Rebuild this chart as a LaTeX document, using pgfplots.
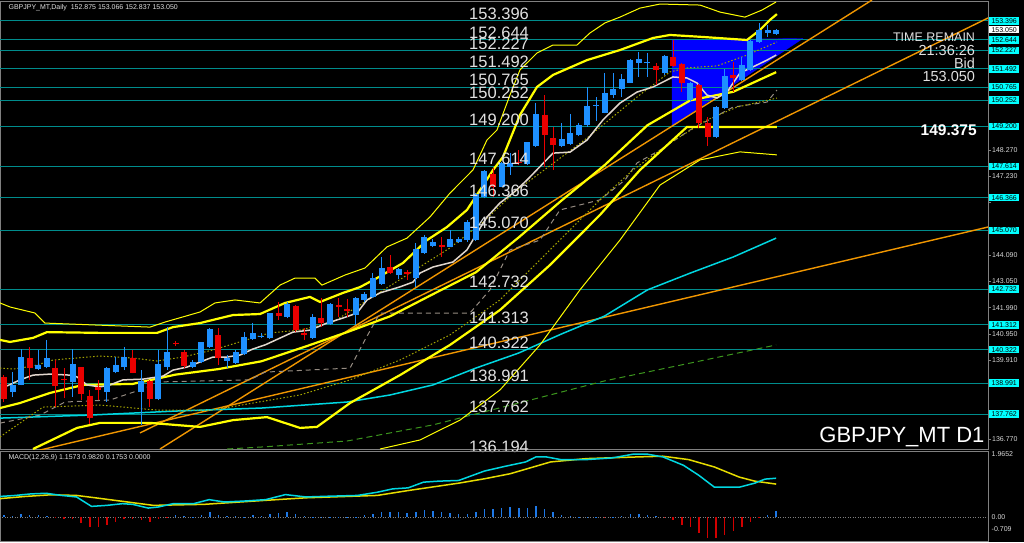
\documentclass[border=0pt]{standalone}
\usepackage{pgfplots}
\pgfplotsset{compat=1.18}
\usepackage{pgfplotstable}
\usepackage{fontspec}
\setmainfont{Liberation Sans}

\definecolor{upc}{RGB}{30,144,255}
\definecolor{dnc}{RGB}{235,0,0}
\definecolor{lvl}{RGB}{0,140,140}
\definecolor{bbY}{RGB}{255,255,0}
\definecolor{olv}{RGB}{165,165,0}
\definecolor{maW}{RGB}{225,215,205}
\definecolor{kij}{RGB}{150,140,130}
\definecolor{cyn}{RGB}{0,215,225}
\definecolor{grn}{RGB}{60,150,30}
\definecolor{org}{RGB}{240,150,0}
\definecolor{tri}{RGB}{0,0,255}
\definecolor{txt}{RGB}{225,225,225}
\definecolor{frm}{RGB}{128,128,128}
\definecolor{boxc}{RGB}{0,255,255}
\definecolor{hup}{RGB}{30,120,230}
\definecolor{hdn}{RGB}{210,0,0}
\definecolor{sig}{RGB}{230,220,0}

\pgfplotstableread{
i O H L C
1 138.65 139.45 138.43 138.92
2 138.92 140.34 138.90 140.02
4 139.55 140.31 139.51 139.70
5 139.65 140.71 139.58 139.98
8 139.04 140.34 138.45 139.74
12 138.63 139.65 138.25 139.58
13 139.45 140.04 139.38 139.71
14 139.65 140.44 139.51 140.02
16 138.63 139.51 137.33 139.08
18 138.35 140.31 138.32 139.74
19 139.65 141.24 139.51 140.24
22 139.65 139.91 139.58 139.82
23 139.82 140.64 139.78 140.61
24 140.41 141.17 140.38 141.13
26 139.89 140.11 139.58 139.99
27 139.80 140.31 139.75 140.24
28 140.14 141.04 140.11 140.84
29 140.73 141.37 140.71 140.97
30 140.84 140.97 140.77 140.88
31 140.77 141.03 140.74 141.79
33 141.64 142.23 141.57 142.14
36 140.80 141.73 140.75 141.64
38 141.34 142.17 141.30 142.14
41 141.70 142.43 141.30 142.37
42 142.30 142.63 142.23 142.54
43 142.43 143.36 142.37 143.16
44 142.94 144.02 142.89 143.56
46 143.28 143.56 143.12 143.52
48 143.16 144.55 142.83 144.34
49 144.15 144.88 144.13 144.79
50 144.45 144.71 144.39 144.62
52 144.42 145.08 144.39 144.71
53 144.62 144.79 144.58 144.71
54 144.68 145.48 144.62 145.41
55 144.68 146.54 144.66 146.50
56 146.41 147.47 146.34 147.44
58 146.81 147.80 146.78 147.73
59 147.60 148.13 147.27 147.73
61 147.71 148.60 147.67 148.57
62 148.42 150.15 148.40 149.70
65 148.42 149.33 148.37 148.69
66 148.50 149.70 148.46 148.95
67 148.86 149.35 148.82 149.27
68 149.26 150.78 149.19 150.01
69 150.02 150.39 149.43 150.07
70 149.75 151.31 149.72 150.53
71 150.45 151.31 150.32 150.68
72 150.68 151.29 150.39 151.08
73 150.94 151.87 150.92 151.84
74 151.74 152.18 151.18 151.87
75 151.72 152.14 151.18 151.76
77 151.31 152.04 151.25 152.00
80 150.25 150.98 150.19 150.92
83 148.77 150.01 148.73 149.96
84 149.92 151.47 149.88 151.21
86 151.05 151.98 151.02 151.65
87 151.45 152.64 151.42 152.61
88 152.57 153.30 152.53 153.04
89 152.93 153.24 152.75 153.04
90 152.875 153.066 152.837 153.050
}\upcandles

\pgfplotstableread{
i O H L C
0 139.22 139.30 138.25 138.35
3 139.99 140.44 139.12 139.61
6 139.61 139.91 138.05 138.88
7 139.17 139.58 138.39 139.13
9 139.62 139.65 138.32 138.55
10 138.49 138.72 137.37 137.59
11 138.82 139.12 138.32 138.72
15 139.98 140.31 139.38 139.41
17 139.08 139.12 138.03 138.35
20 140.60 140.66 140.48 140.56
21 140.24 140.31 139.58 139.67
25 140.90 141.17 139.71 139.98
32 141.79 142.23 141.50 141.68
34 142.07 142.10 141.04 141.11
35 141.00 141.17 140.71 140.89
37 141.57 142.37 141.24 141.37
39 142.10 142.37 141.64 142.03
40 141.93 142.34 141.64 141.87
45 143.60 144.09 143.33 143.39
47 143.40 143.49 143.09 143.33
51 144.50 144.82 144.02 144.42
57 147.31 147.54 146.41 146.81
60 147.80 148.27 147.67 147.73
63 149.66 150.45 147.60 148.86
64 148.74 149.19 147.47 148.45
76 151.61 151.74 150.85 151.45
78 151.98 152.64 151.58 151.61
79 151.69 151.74 150.59 150.94
81 150.85 150.87 149.13 149.33
82 149.33 149.59 148.42 148.80
85 151.24 151.78 150.59 151.14
}\dncandles

\pgfplotstableread{
i h
0 0.06
1 0.04
2 0.10
3 0.07
4 0.05
5 0.04
20 0.05
21 0.04
22 0.01
23 0.07
24 0.15
25 0.07
26 0.03
27 0.02
28 0.01
29 0.05
30 0.04
31 0.10
32 0.13
33 0.15
34 0.10
35 0.03
36 0.01
37 0.01
38 0.01
39 0.01
40 0.01
41 0.01
42 0.05
43 0.10
44 0.15
45 0.15
46 0.15
47 0.12
48 0.15
49 0.20
50 0.18
51 0.14
52 0.12
53 0.08
54 0.10
55 0.15
56 0.25
57 0.25
58 0.28
59 0.30
60 0.27
61 0.27
62 0.32
63 0.25
64 0.15
65 0.07
66 0.02
67 0.01
68 0.01
69 0.01
71 0.01
72 0.03
73 0.10
74 0.10
75 0.07
76 0.02
89 0.05
90 0.1753
}\histpos

\pgfplotstableread{
i h
6 -0.02
7 -0.05
8 -0.05
9 -0.18
10 -0.30
11 -0.30
12 -0.22
13 -0.15
14 -0.05
15 -0.05
16 -0.08
17 -0.15
18 -0.05
19 -0.01
70 -0.01
77 -0.01
78 -0.08
79 -0.22
80 -0.30
81 -0.48
82 -0.62
83 -0.62
84 -0.52
85 -0.42
86 -0.30
87 -0.15
88 -0.02
}\histneg

\begin{document}
\begin{tikzpicture}[x=1pt,y=1pt]
\useasboundingbox (0,0) rectangle (1024,542);
\fill[black] (0,0) rectangle (1024,542);

% ---------------- main price panel ----------------
\begin{axis}[
  at={(0pt,93pt)}, anchor=south west, scale only axis,
  width=988pt, height=448pt,
  xmin=-0.466, xmax=114.69, ymin=136.371, ymax=154.191,
  axis line style={draw=frm, line width=0.8pt},
  xtick=\empty,
  ytick={136.77,137.81,138.87,139.91,140.95,141.99,143.05,144.09,145.13,146.19,147.23,148.27,149.33,150.37,151.41,152.47,153.51},
  yticklabels={136.770,,,139.910,140.950,141.990,143.050,144.090,,,147.230,148.270,,,,,},
  ytick pos=right, yticklabel pos=right, tick align=outside,
  major tick length=3pt, tick style={draw=frm, line width=0.6pt},
  yticklabel style={font=\fontsize{7}{8}\selectfont, text=black!15, inner sep=0.5pt, xshift=0.5pt},
  clip mode=individual,
]
% blue triangle object
\addplot[draw=tri, fill=tri] coordinates {(77.86,152.644) (93.1,152.70) (77.86,149.22) (77.86,152.644)};

% horizontal price levels
\pgfplotsinvokeforeach{153.396,152.644,152.227,151.492,150.765,150.252,149.200,147.614,146.366,145.070,142.732,141.313,140.322,138.991,137.762}{
  \addplot[lvl, line width=1pt] coordinates {(-0.466,#1) (114.69,#1)};
}

% trend lines
\addplot[org, line width=1.4pt] coordinates {(4.2,136.33) (114.69,145.20)};
\addplot[org, line width=1.4pt] coordinates {(15.85,137.01) (114.69,153.515)};
\addplot[org, line width=1.4pt] coordinates {(18.18,136.37) (101.17,154.23)};

% long MAs
\addplot[grn, line width=1pt, dash pattern=on 6pt off 4pt] coordinates {(26,136.37) (30,136.45) (40,136.69) (50,137.33) (60,138.20) (70,139.08) (80,139.79) (90,140.51)};
\addplot[cyn, line width=1.5pt] coordinates {(-0.47,137.60) (10,137.72) (20,137.88) (30,138.0) (40,138.24) (45,138.52) (50,138.92) (55,139.59) (60,140.19) (65,140.95) (70,141.66) (75,142.70) (80,143.37) (85,144.01) (90,144.76)};

% dashed line (kijun-like)
\addplot[kij, line width=1pt, dash pattern=on 5pt off 4pt] coordinates {(-0.47,137.40) (4.2,137.72) (7.11,138.24) (12.35,138.32) (15.85,138.72) (18.18,139.04) (28.67,139.12) (30.42,139.43) (40.33,139.59) (42.07,140.71) (43.82,141.78) (54.31,141.78) (56.64,142.70) (58.97,144.29) (62.47,144.68) (64.80,145.88) (69.46,146.28) (72.38,147.07) (73.78,147.75) (76.46,148.26) (79.95,149.06) (84.97,149.97) (88.93,150.17) (90.09,150.65)};

% Bollinger-type bands
\addplot[bbY, line width=1pt] coordinates {(-0.47,142.18) (0.7,142.02) (3.61,141.78) (4.78,141.38) (17.02,141.22) (18.76,141.42) (22.84,141.82) (24.59,142.18) (26.92,142.30) (29.84,142.18) (32.17,142.89) (33.92,143.17) (36.25,143.17) (37.06,142.89) (39.74,143.29) (42.07,143.57) (44.64,144.41) (46.97,144.76) (49.65,145.60) (51.98,146.55) (54.66,147.47) (56.29,148.66) (57.46,149.06) (58.97,150.45) (60.14,151.45) (62.12,152.12) (63.99,152.44) (66.78,152.44) (68.30,152.92) (70.05,153.32) (71.79,153.55) (74.13,153.91) (76.46,154.07) (81.12,154.03) (83.45,153.75) (86.36,153.55) (88.34,153.83) (89.98,154.15)};
\addplot[bbY, line width=2.2pt] coordinates {(-0.47,140.71) (0.7,140.63) (3.38,140.79) (5.01,141.02) (11.19,140.99) (17.83,140.99) (19.70,141.22) (22.84,141.38) (26.69,141.70) (29.84,141.74) (32.75,142.18) (35.66,142.42) (36.83,142.22) (39.51,142.58) (41.49,142.81) (43.47,143.17) (46.50,143.77) (49.30,144.68) (51.63,145.20) (53.96,145.88) (55.48,146.67) (57.0,147.47) (58.16,147.99) (60.14,149.66) (62.12,150.77) (63.99,151.25) (67.95,151.84) (71.79,152.24) (75.64,152.72) (77.62,152.84) (81.47,152.76) (86.6,152.64) (88.11,153.04) (89.28,153.44) (90.09,153.67)};
\addplot[olv, line width=1pt, dash pattern=on 1.5pt off 2pt] coordinates {(-0.47,139.59) (1.05,139.55) (3.38,139.67) (5.71,139.91) (11.19,140.07) (15.03,139.99) (17.83,139.87) (20.86,140.03) (24.36,140.31) (29.02,140.79) (31.0,140.99) (34.5,141.10) (38.34,141.42) (41.49,142.10) (46.97,143.29) (51.98,144.37) (55.83,145.40) (59.79,146.67) (63.29,147.55) (67.95,148.74) (73.78,150.37) (77.62,151.37) (79.6,151.53) (83.1,151.61) (86.6,152.04) (90.09,152.56)};
\addplot[bbY, line width=2.2pt] coordinates {(-0.47,138.00) (1.86,138.20) (5.36,138.60) (9.21,138.92) (15,138.96) (20,139.33) (25,139.55) (30,139.86) (35,140.43) (40,141.02) (45,141.65) (50,142.53) (55,143.40) (60,144.79) (65,146.26) (70,147.66) (75,149.25) (80,150.24) (85,150.58) (90,151.36)};
\addplot[olv, line width=1pt, dash pattern=on 1.5pt off 2pt] coordinates {(-0.47,136.85) (4.55,138.04) (11.19,138.12) (17.83,137.92) (24.36,137.92) (29.02,138.20) (34.5,138.52) (40.33,139.12) (46.15,139.91) (51.98,140.91) (57.81,142.30) (63.64,144.29) (69.46,146.28) (73.31,147.47) (77.62,148.54) (81.93,149.46) (85.43,149.97) (90.09,150.33)};
\addplot[bbY, line width=2.2pt] coordinates {(3.38,136.37) (8.51,137.21) (11.19,137.41) (17.02,137.41) (22.84,137.25) (26.69,137.52) (30.65,137.64) (34.5,137.21) (36.48,137.25) (40.33,138.20) (46.15,139.31) (51.98,140.51) (57.81,141.90) (63.64,143.69) (69.46,145.68) (74.13,147.47) (79.6,149.18) (85.78,149.18) (90.09,149.18)};
\addplot[bbY, line width=1pt] coordinates {(43.82,136.37) (48.48,136.73) (53.15,137.52) (57.81,138.72) (62.47,140.51) (67.13,142.70) (71.79,144.68) (76.46,146.87) (81.12,147.87) (85.78,148.19) (90.09,148.07)};

% short MA (white)
\addplot[maW, line width=1.5pt] coordinates {(0.35,138.88) (1.86,139.12) (3.38,139.31) (5.36,139.35) (7.69,139.31) (8.51,139.24) (9.67,138.92) (11.19,138.84) (12.35,138.92) (13.87,139.12) (16.20,139.15) (18.53,139.27) (19.70,139.51) (21.33,139.63) (22.84,139.83) (24.36,140.03) (25.99,140.03) (27.51,140.11) (29.02,140.35) (30.42,140.51) (33.68,141.02) (35.66,141.10) (37.65,141.38) (39.51,141.58) (41.14,141.78) (42.31,142.30) (43.82,142.58) (46.15,142.82) (47.67,143.01) (48.48,143.37) (50.0,143.61) (52.33,143.81) (53.96,144.29) (55.13,144.96) (56.29,145.60) (57.81,146.16) (59.32,146.55) (60.96,147.07) (63.99,148.14) (65.97,148.18) (67.95,148.66) (69.81,149.46) (71.79,150.13) (73.78,150.57) (75.64,150.77) (76.81,150.97) (77.97,151.17) (79.6,151.13) (80.77,150.93) (81.93,150.45) (83.1,150.33) (84.27,150.57) (85.78,151.33) (87.30,151.57) (88.93,151.84) (90.0,152.04)};

% candles
\addplot[draw=upc, line width=1pt, -, quiver={u=0, v=\thisrow{H}-\thisrow{L}}] table[x=i, y=L] {\upcandles};
\addplot[draw=upc, line width=6pt, -, quiver={u=0, v=\thisrow{C}-\thisrow{O}}] table[x=i, y=O] {\upcandles};
\addplot[draw=dnc, line width=1pt, -, quiver={u=0, v=\thisrow{H}-\thisrow{L}}] table[x=i, y=L] {\dncandles};
\addplot[draw=dnc, line width=6pt, -, quiver={u=0, v=\thisrow{C}-\thisrow{O}}] table[x=i, y=O] {\dncandles};

% level labels
\pgfplotsinvokeforeach{153.396,152.644,152.227,151.492,150.765,150.252,149.200,147.614,146.366,145.070,142.732,141.313,140.322,138.991,137.762,136.194}{
  \node[anchor=south, inner sep=1pt, text=txt, font=\fontsize{16.5}{17}\selectfont] at (axis cs:57.7,#1) {#1};
}
% right scale boxes
\pgfplotsinvokeforeach{153.396,152.644,152.227,151.492,150.765,150.252,149.200,147.614,146.366,145.070,142.732,140.322,138.991,137.762}{
  \node[anchor=west, fill=boxc, text=black, inner sep=0.4pt, minimum width=30pt, minimum height=7.5pt, font=\fontsize{7}{7.5}\selectfont, xshift=1pt] at (axis cs:114.69,#1) {#1};
}
\node[anchor=west, fill=boxc, text=black, inner sep=0.4pt, minimum width=30pt, minimum height=7.5pt, font=\fontsize{7}{7.5}\selectfont, xshift=1pt] at (axis cs:114.69,141.313) {141.312};
\node[anchor=west, fill=white, text=black, inner sep=0.4pt, minimum width=30pt, minimum height=7.5pt, font=\fontsize{7}{7.5}\selectfont, xshift=1pt] at (axis cs:114.69,153.05) {153.050};

% info texts
\node[anchor=west, text=txt, font=\fontsize{7}{8}\selectfont] at (axis cs:0.12,153.91) {GBPJPY\_MT,Daily\ \ 152.875 153.066 152.837 153.050};
\node[anchor=east, text=txt, font=\fontsize{12.5}{13}\selectfont, inner sep=0pt] at (axis cs:113.2,152.76) {TIME REMAIN};
\node[anchor=east, text=txt, font=\fontsize{14.5}{15}\selectfont, inner sep=0pt] at (axis cs:113.2,152.24) {21:36:26};
\node[anchor=east, text=txt, font=\fontsize{14.5}{15}\selectfont, inner sep=0pt] at (axis cs:113.2,151.72) {Bid};
\node[anchor=east, text=txt, font=\fontsize{14.5}{15}\selectfont, inner sep=0pt] at (axis cs:113.2,151.17) {153.050};
\node[anchor=east, text=white, font=\bfseries\fontsize{15.5}{16}\selectfont, inner sep=0pt] at (axis cs:113.4,149.06) {149.375};
\node[anchor=east, text=white, font=\fontsize{22}{23}\selectfont, inner sep=0pt] at (axis cs:114.3,136.85) {GBPJPY\_MT D1};
\end{axis}

% ---------------- MACD panel ----------------
\begin{axis}[
  at={(0pt,1pt)}, anchor=south west, scale only axis,
  width=988pt, height=90pt,
  xmin=-0.466, xmax=114.69, ymin=-0.709, ymax=1.9652,
  axis line style={draw=frm, line width=0.8pt},
  xtick=\empty, ytick=\empty,
  clip mode=individual,
]
\addplot[frm, line width=0.6pt, dash pattern=on 1pt off 1.5pt] coordinates {(-0.466,0) (114.69,0)};
\addplot[ycomb, draw=hup, line width=1.5pt] table[x=i, y=h] {\histpos};
\addplot[ycomb, draw=hdn, line width=1.5pt] table[x=i, y=h] {\histneg};
\addplot[sig, line width=1.5pt] coordinates {(-0.47,0.55) (2.5,0.615) (5.5,0.665) (8.45,0.645) (11.4,0.55) (14.4,0.45) (17.4,0.35) (23.3,0.38) (29.3,0.48) (35.2,0.575) (43.5,0.645) (47.1,0.79) (53.0,1.01) (56.0,1.14) (59.0,1.29) (63.7,1.64) (67.9,1.74) (73.9,1.79) (76.8,1.81) (79.8,1.71) (82.8,1.49) (85.7,1.19) (87.5,1.07) (90.0,0.982)};
\addplot[cyn, line width=1.5pt] coordinates {(-0.47,0.615) (1.32,0.645) (3.1,0.69) (4.9,0.71) (6.7,0.645) (8.45,0.60) (10.2,0.32) (12.0,0.35) (13.8,0.40) (15.0,0.38) (16.8,0.27) (17.96,0.30) (19.7,0.40) (22.1,0.40) (23.9,0.52) (25.7,0.45) (28.1,0.48) (30.5,0.52) (32.8,0.67) (35.2,0.60) (37.6,0.62) (41.2,0.645) (43.5,0.74) (45.3,0.84) (47.1,0.87) (48.9,1.04) (50.7,1.07) (53.0,1.09) (56.0,1.37) (58.4,1.51) (60.8,1.64) (62.0,1.79) (63.2,1.79) (64.9,1.71) (67.9,1.71) (70.9,1.76) (73.3,1.87) (75.0,1.87) (76.8,1.79) (79.2,1.54) (81.0,1.24) (82.8,0.89) (85.7,0.89) (87.5,1.01) (88.7,1.13) (90.0,1.157)};
\node[anchor=west, text=txt, font=\fontsize{7}{8}\selectfont] at (axis cs:0.12,1.757) {MACD(12,26,9) 1.1573 0.9820 0.1753 0.0000};
\node[anchor=west, text=black!15, font=\fontsize{7}{8}\selectfont, inner sep=0.5pt, xshift=3pt] at (axis cs:114.69,1.876) {1.9652};
\node[anchor=west, text=black!15, font=\fontsize{7}{8}\selectfont, inner sep=0.5pt, xshift=3pt] at (axis cs:114.69,0) {0.00};
\node[anchor=west, text=black!15, font=\fontsize{7}{8}\selectfont, inner sep=0.5pt, xshift=3pt] at (axis cs:114.69,-0.35) {-0.709};
\end{axis}
\end{tikzpicture}
\end{document}
